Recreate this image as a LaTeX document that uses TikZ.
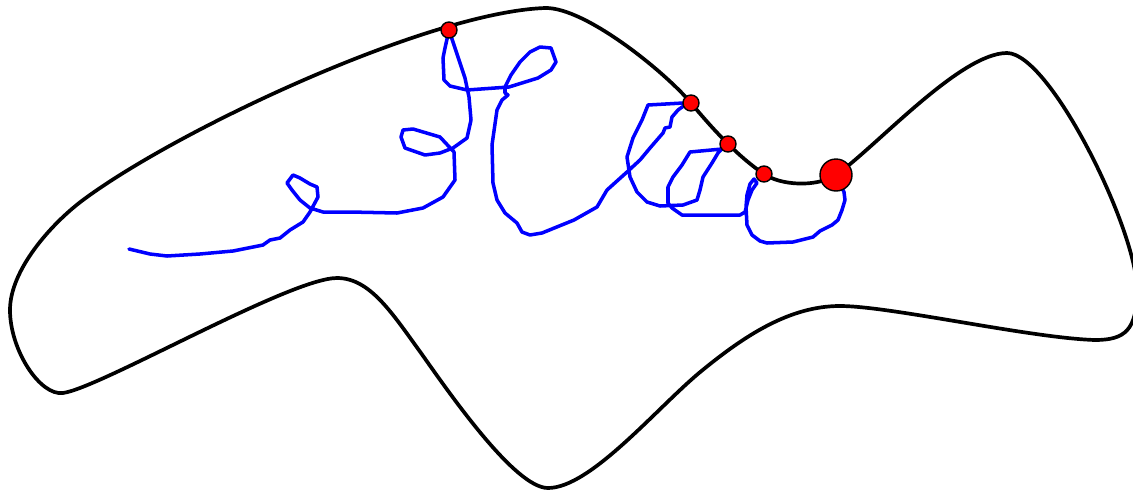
\documentclass[tikz,border=0pt]{standalone}
\begin{document}
\begin{tikzpicture}[x=0.02cm,y=-0.02cm,
  outline/.style={draw=black,line width=2.1pt},
  walk/.style={draw=blue,line width=2pt,line join=round,line cap=round},
  dot/.style={circle,draw=black,fill=red,line width=0.8pt,inner sep=0pt,minimum size=0.32cm},
  bigdot/.style={dot,minimum size=0.64cm}]
\useasboundingbox (0,0) rectangle (1133,491);
\begin{scope}
\clip (0,0) rectangle (1133,491);
\draw[outline] (83,200) .. controls (180,128) and (430,12) .. (545,8)
 .. controls (585,7) and (665,72) .. (691,103)
 .. controls (716,133) and (740,158) .. (764,174)
 .. controls (780,185) and (815,188) .. (836,175)
 .. controls (876,147) and (960,53) .. (1007,53)
 .. controls (1050,53) and (1137,230) .. (1137,290)
 .. controls (1137,330) and (1125,340) .. (1095,340)
 .. controls (1030,338) and (890,306) .. (840,306)
 .. controls (790,306) and (745,335) .. (699,373)
 .. controls (655,410) and (590,488) .. (548,488)
 .. controls (515,488) and (450,394) .. (421,353)
 .. controls (392,313) and (370,278) .. (337,278)
 .. controls (290,278) and (100,388) .. (63,393)
 .. controls (40,396) and (10,350) .. (10,310)
 .. controls (10,270) and (51,224) .. (83,200) -- cycle;
\end{scope}
\draw[walk] (129,249) -- (150,254) -- (167,256) -- (200,254) -- (233,251)
 -- (263,245) -- (270,240) -- (280,238) -- (290,230) -- (303,222) -- (310,212)
 -- (318,197) -- (317,187) -- (310,184) -- (300,178) -- (293,175) -- (287,183)
 -- (292,190) -- (300,200) -- (310,208) -- (323,212) -- (350,212) -- (397,213)
 -- (423,208) -- (443,197) -- (455,180) -- (454,152) -- (440,137) -- (413,129)
 -- (403,130) -- (401,137) -- (405,148) -- (425,155) -- (440,153) -- (453,148)
 -- (467,138) -- (471,120) -- (469,97) -- (465,78) -- (460,63) -- (449,30)
 -- (445,48) -- (443,58) -- (444,80) -- (450,86) -- (467,90) -- (509,87)
 -- (538,78) -- (551,70) -- (556,62) -- (551,48) -- (540,47) -- (530,52)
 -- (520,62) -- (511,75) -- (505,87) -- (505,93) -- (508,95) -- (502,100)
 -- (497,110) -- (492,145) -- (493,183) -- (497,200) -- (505,213) -- (517,223)
 -- (522,232) -- (530,235) -- (542,233) -- (574,220) -- (597,207) -- (607,190)
 -- (627,172) -- (640,160) -- (650,148) -- (663,133) -- (665,128) -- (670,127)
 -- (672,117) -- (678,110) -- (685,105) -- (691,103) -- (683,103) -- (648,105)
 -- (642,120) -- (633,138) -- (627,157) -- (630,177) -- (637,192) -- (647,202)
 -- (660,206) -- (683,205) -- (697,200) -- (700,190) -- (703,177) -- (712,163)
 -- (718,153) -- (723,148) -- (728,144) -- (722,149) -- (690,152) -- (682,165)
 -- (673,177) -- (668,187) -- (668,203) -- (672,208) -- (682,215) -- (740,215)
 -- (745,212) -- (748,200) -- (752,190) -- (757,183) -- (754,179) -- (750,184)
 -- (747,195) -- (746,207) -- (747,225) -- (752,235) -- (760,241) -- (767,243)
 -- (793,242) -- (813,237) -- (820,231) -- (832,225) -- (838,220) -- (842,210)
 -- (845,200) -- (844,192) -- (836,175);
\node[dot] (p1) at (449,30) {};
\node[dot] (p2) at (691,103) {};
\node[dot] (p3) at (728,144) {};
\node[dot] (p4) at (764,174) {};
\node[bigdot] (p5) at (836,175) {};
\end{tikzpicture}
\end{document}
